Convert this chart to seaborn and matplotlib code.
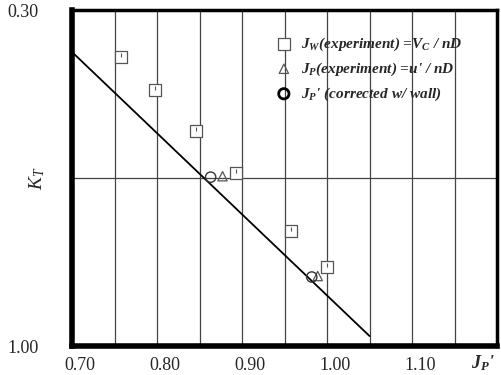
import numpy as np
import pandas as pd
import matplotlib
matplotlib.use("Agg")
import matplotlib.pyplot as plt
from matplotlib.ticker import FormatStrFormatter
from matplotlib.transforms import ScaledTranslation
import seaborn as sns

# values
jw_x = [0.757, 0.797, 0.846, 0.893, 0.958, 1.000]
jw_y = [0.398, 0.467, 0.552, 0.640, 0.760, 0.835]
jp_x = [0.877, 0.989]
jp_y = [0.646, 0.854]
jpc_x = [0.863, 0.982]
jpc_y = [0.648, 0.856]
fit_x = [0.70, 1.05]
fit_y = [0.3875, 0.979]

x_ticks = [0.70, 0.80, 0.90, 1.00, 1.10]
y_ticks = [0.30, 1.00]

sns.set_style("white")
plt.rcParams["font.family"] = ["Liberation Serif", "DejaVu Serif"]
plt.rcParams["mathtext.fontset"] = "custom"
plt.rcParams["mathtext.it"] = "Liberation Serif:italic"
plt.rcParams["mathtext.rm"] = "Liberation Serif"
plt.rcParams["mathtext.bf"] = "Liberation Serif:italic:bold"

lbl_w = r"$\mathbf{J_W}$(experiment) =$\mathbf{V_C}$ / nD"
lbl_p = r"$\mathbf{J_P}$(experiment) =u' / nD"
lbl_c = r"$\mathbf{J_P}$' (corrected w/ wall)"

df = pd.DataFrame({
    "J": jw_x + jp_x + jpc_x,
    "KT": jw_y + jp_y + jpc_y,
    "serie": [lbl_w] * len(jw_x) + [lbl_p] * len(jp_x) + [lbl_c] * len(jpc_x),
})
fit = pd.DataFrame({"J": fit_x, "KT": fit_y})

fig = plt.figure(figsize=(5.01, 3.75), dpi=100)
ax = fig.add_axes([0.144, 0.077, 0.848, 0.896])

# grid
ax.set_xlim(0.70, 1.20)
ax.set_ylim(1.00, 0.30)
ax.set_xticks(x_ticks)
ax.set_xticks(np.arange(0.75, 1.20, 0.05), minor=True)
ax.set_yticks(y_ticks)
ax.set_yticks([0.65], minor=True)
ax.xaxis.set_major_formatter(FormatStrFormatter("%.2f"))
ax.yaxis.set_major_formatter(FormatStrFormatter("%.2f"))
ax.grid(which="both", color="#444444", linewidth=0.9)
ax.tick_params(which="both", length=0)
ax.tick_params(axis="x", pad=8, labelsize=13)
ax.tick_params(axis="y", pad=24, labelsize=13)
ax.set_axisbelow(True)

sns.lineplot(data=fit, x="J", y="KT", ax=ax, color="black", linewidth=1.3)

sty = {
    lbl_w: dict(marker="s", s=70, edgecolor="#555555", facecolor="white", linewidth=0.9),
    lbl_p: dict(marker="^", s=45, edgecolor="#555555", facecolor="none", linewidth=0.9),
    lbl_c: dict(marker="o", s=55, edgecolor="#333333", facecolor="none", linewidth=1.0),
}
handles = []
for name, kw in sty.items():
    d = df[df["serie"] == name]
    sns.scatterplot(data=d, x="J", y="KT", ax=ax, zorder=3, **kw)
    hk = dict(kw)
    if name == lbl_c:
        hk.update(edgecolor="black", linewidth=2.0)
    handles.append(ax.scatter([], [], label=name, **hk))

# small tick inside each square
ax.scatter(jw_x, np.array(jw_y) - 0.004, marker="|", s=12, color="#555555", linewidth=0.8, zorder=4)

ax.legend(handles=handles, loc="upper left", bbox_to_anchor=(0.43, 0.965),
          frameon=False, handletextpad=0.1, labelspacing=0.5,
          prop={"size": 11, "weight": "bold", "style": "italic"})

ax.set_xlabel("")
ax.set_ylabel(r"$K_T$", fontsize=14)
ax.yaxis.set_label_coords(-0.06, 0.5)

for lab in ax.get_xticklabels():
    lab.set_transform(lab.get_transform() + ScaledTranslation(8 / 100, 0, fig.dpi_scale_trans))

ax.text(1.183, -0.05, r"$\mathbf{J_P}$'", transform=ax.get_xaxis_transform(),
        ha="center", va="center", fontsize=13, fontweight="bold", style="italic")

for side, lw in [("left", 4), ("bottom", 4), ("top", 2.5), ("right", 2.5)]:
    ax.spines[side].set_visible(True)
    ax.spines[side].set_linewidth(lw)
    ax.spines[side].set_color("black")

fig.savefig("out.png", dpi=100)
